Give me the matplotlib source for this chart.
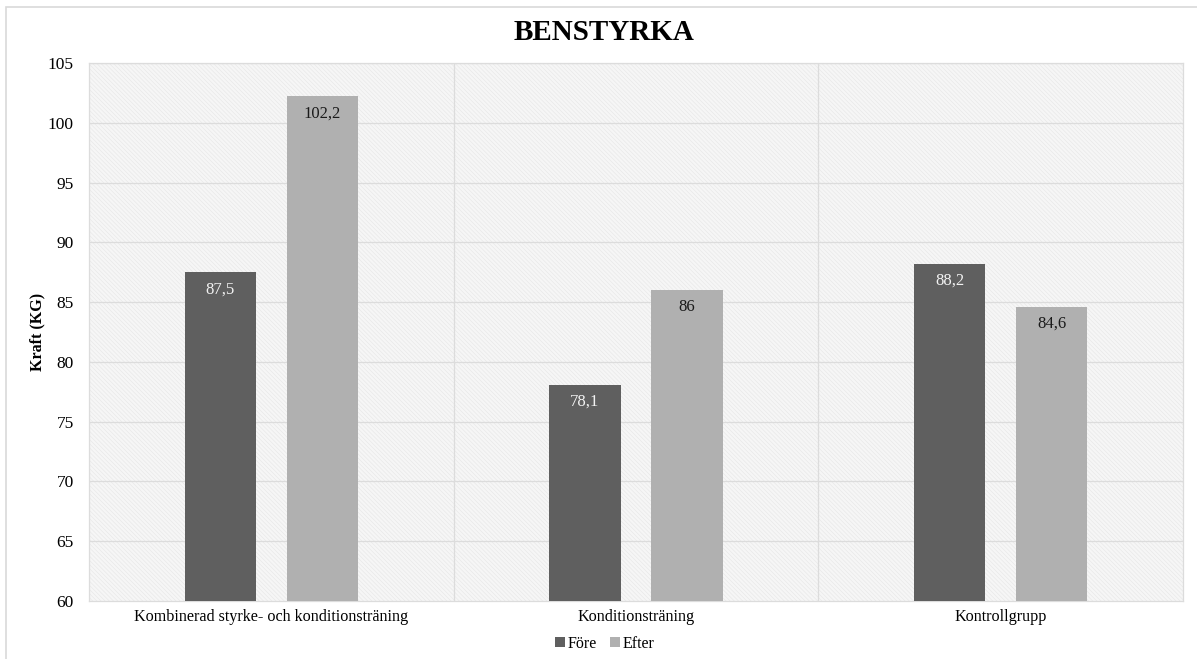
import matplotlib
matplotlib.use("Agg")
import matplotlib.pyplot as plt
import numpy as np
from matplotlib.patches import Rectangle

categories = ["Kombinerad styrke- och konditionsträning", "Konditionsträning", "Kontrollgrupp"]
series_names = ["Före", "Efter"]
fore = [87.5, 78.1, 88.2]
efter = [102.2, 86.0, 84.6]
y_ticks = [60, 65, 70, 75, 80, 85, 90, 95, 100, 105]

plt.rcParams['font.family'] = ['Liberation Serif', 'DejaVu Serif']
plt.rcParams['hatch.linewidth'] = 0.4
plt.rcParams['hatch.color'] = '#e6e6e6'

W, H = 1197, 659
fig = plt.figure(figsize=(W / 100, H / 100), dpi=100)

# outer chart frame
fig.patches.append(Rectangle((6 / W, -0.1), 1.2, (H - 7) / H + 0.1,
                             transform=fig.transFigure, fill=False,
                             edgecolor='#d9d9d9', linewidth=1.2))

ax = fig.add_axes([89 / W, (H - 601) / H, (1183 - 89) / W, (601 - 63) / H])
ax.set_facecolor('#f6f6f6')
ax.add_patch(Rectangle((0, 0), 1, 1, transform=ax.transAxes, facecolor='none',
                       hatch='\\\\\\\\\\\\\\\\', edgecolor='#e6e6e6', linewidth=0, zorder=0))

x = np.arange(len(categories))
bw = 0.195
off = 0.14
c_fore = '#5f5f5f'
c_efter = '#b0b0b0'
b1 = ax.bar(x - off, np.array(fore) - 60, bw, bottom=60, color=c_fore, zorder=3, label=series_names[0])
b2 = ax.bar(x + off, np.array(efter) - 60, bw, bottom=60, color=c_efter, zorder=3, label=series_names[1])

def fmt(v):
    s = f"{v:.1f}".replace('.', ',')
    return s[:-2] if s.endswith(',0') else s

for xi, v in zip(x - off, fore):
    ax.text(xi, v - 0.75, fmt(v), ha='center', va='top', color='#f2f2f2', fontsize=12, zorder=4)
for xi, v in zip(x + off, efter):
    ax.text(xi, v - 0.75, fmt(v), ha='center', va='top', color='#1a1a1a', fontsize=12, zorder=4)

ax.set_xlim(-0.5, len(categories) - 0.5)
ax.set_ylim(60, 105)
ax.set_yticks(y_ticks)
ax.set_xticks(x)
ax.set_xticklabels(categories, fontsize=11.6)
ax.tick_params(axis='y', labelsize=12.5, length=0, pad=11)
ax.tick_params(axis='x', length=0, pad=6)
for yt in y_ticks[1:]:
    ax.axhline(yt, color='#dcdcdc', linewidth=0.9, zorder=1)
for xb in [0.5, 1.5]:
    ax.axvline(xb, color='#dcdcdc', linewidth=0.9, zorder=1)
for s in ax.spines.values():
    s.set_color('#dcdcdc')
    s.set_linewidth(0.9)

ax.set_ylabel("Kraft (KG)", fontsize=11.5, fontweight='bold', labelpad=2)
fig.text(604 / W, 1 - 33 / H, "BENSTYRKA", ha='center', va='center',
         fontsize=21, fontweight='bold')

leg = fig.legend(handles=[b1, b2], loc='center', bbox_to_anchor=(605 / W, 1 - 644 / H),
                 ncol=2, frameon=False, fontsize=11.5, handlelength=0.6, handleheight=0.6,
                 handletextpad=0.2, columnspacing=0.8)

fig.savefig("out.png", dpi=100)
